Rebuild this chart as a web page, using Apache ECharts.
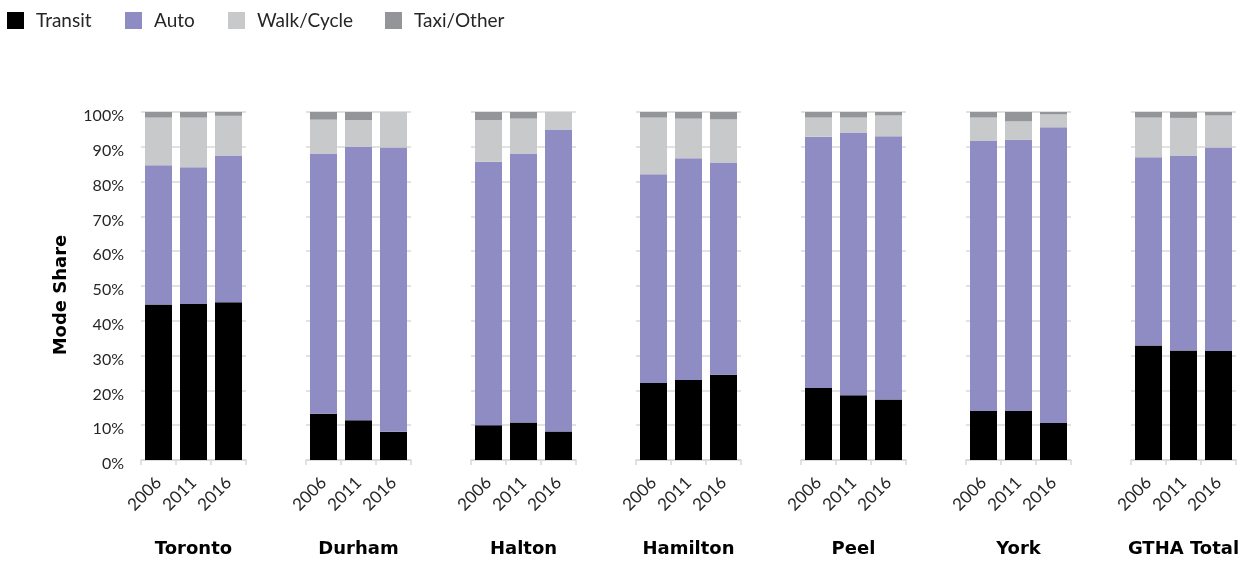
<!DOCTYPE html>
<html>
<head>
<meta charset="utf-8">
<script src="https://cdn.jsdelivr.net/npm/echarts@6/dist/echarts.min.js"></script>
<style>
  html, body { margin: 0; padding: 0; background: #fff; }
  #chart { width: 1244px; height: 563px; }
</style>
</head>
<body>
<div id="chart"></div>
<script>
// Commute mode share by region and census year (percent of trips)
const regions = ['Toronto', 'Durham', 'Halton', 'Hamilton', 'Peel', 'York', 'GTHA Total'];
const years = ['2006', '2011', '2016'];
const modes = ['Transit', 'Auto', 'Walk/Cycle', 'Taxi/Other'];

// One row per region, values for 2006, 2011, 2016
const transit = [
  [44.7, 44.8, 45.3],
  [13.3, 11.4, 8.1],
  [10.0, 10.8, 8.2],
  [22.1, 23.0, 24.5],
  [20.7, 18.6, 17.4],
  [14.1, 14.1, 10.6],
  [32.9, 31.5, 31.3]
];
const auto = [
  [40.0, 39.3, 42.2],
  [74.8, 78.6, 81.7],
  [75.7, 77.3, 86.8],
  [60.0, 63.7, 61.0],
  [72.2, 75.5, 75.6],
  [77.7, 77.9, 85.0],
  [54.1, 56.0, 58.5]
];
const walkCycle = [
  [13.7, 14.3, 11.4],
  [9.7, 7.7, 10.2],
  [12.0, 10.0, 5.0],
  [16.3, 11.4, 12.4],
  [5.5, 4.3, 6.0],
  [6.6, 5.3, 3.7],
  [11.4, 10.8, 9.2]
];
const taxiOther = [
  [1.6, 1.6, 1.1],
  [2.2, 2.3, 0.0],
  [2.3, 1.9, 0.0],
  [1.6, 1.9, 2.1],
  [1.6, 1.6, 1.0],
  [1.6, 2.7, 0.7],
  [1.6, 1.7, 1.0]
];

const modeValues = [transit, auto, walkCycle, taxiOther];
const modeColors = ['#000000', '#8F8BC3', '#C8C9CB', '#939598'];

const FONT = 'Lato, "Noto Sans", sans-serif';
const BOLD_FONT = '"DejaVu Sans", sans-serif';
const GRID_LINE = '#D9D9D9';
const TEXT = '#262626';

const panelLeft0 = 141;
const panelStep = 165;
const panelWidth = 105;

const grids = [], xAxes = [], yAxes = [], series = [];

regions.forEach((region, i) => {
  grids.push({
    left: panelLeft0 + i * panelStep,
    width: panelWidth,
    top: 112,
    bottom: 102,
    containLabel: false
  });
  xAxes.push({
    type: 'category',
    gridIndex: i,
    data: years,
    name: region,
    nameLocation: 'middle',
    nameGap: 80,
    nameTextStyle: { fontFamily: BOLD_FONT, fontWeight: 'bold', fontSize: 18, color: '#000' },
    axisLine: { lineStyle: { color: GRID_LINE, width: 1.5 } },
    axisTick: { show: true, length: 5, lineStyle: { color: GRID_LINE, width: 1.5 } },
    axisLabel: { rotate: 45, fontFamily: FONT, fontSize: 17, color: TEXT, margin: 20 }
  });
  yAxes.push({
    type: 'value',
    gridIndex: i,
    min: 0,
    max: 100,
    interval: 10,
    axisLine: { show: false },
    axisTick: { show: false },
    axisLabel: {
      show: i === 0,
      formatter: '{v|{value}%}',
      margin: 17,
      rich: {
        v: { fontFamily: FONT, fontSize: 16, color: TEXT, padding: [8, 0, 0, 0] }
      }
    },
    splitLine: { show: true, lineStyle: { color: GRID_LINE, width: 1.5 } }
  });
  modes.forEach((mode, m) => {
    series.push({
      name: mode,
      type: 'bar',
      stack: 'share' + i,
      xAxisIndex: i,
      yAxisIndex: i,
      barWidth: 27,
      itemStyle: { color: modeColors[m] },
      data: modeValues[m][i],
      emphasis: { disabled: true }
    });
  });
});

// One legend entry per mode, laid out left to right along the top
const legendLefts = [7, 125, 228, 385];
const legends = modes.map((mode, m) => ({
  data: [mode],
  left: legendLefts[m],
  top: 11,
  padding: 0,
  orient: 'horizontal',
  icon: 'rect',
  itemWidth: 17,
  itemHeight: 17,
  selectedMode: false,
  textStyle: { fontFamily: FONT, fontSize: 19, color: TEXT, padding: [0, 0, 0, 7] }
}));

const chart = echarts.init(document.getElementById('chart'), null, { renderer: 'canvas' });
chart.setOption({
  animation: false,
  backgroundColor: '#ffffff',
  legend: legends,
  grid: grids,
  xAxis: xAxes,
  yAxis: yAxes,
  series: series,
  graphic: [{
    // vertical axis title
    type: 'text',
    x: 61,
    y: 295,
    rotation: Math.PI / 2,
    style: {
      text: 'Mode Share',
      fontFamily: BOLD_FONT,
      fontWeight: 'bold',
      fontSize: 18,
      fill: '#000',
      align: 'center',
      verticalAlign: 'middle'
    }
  }]
});
</script>
</body>
</html>
